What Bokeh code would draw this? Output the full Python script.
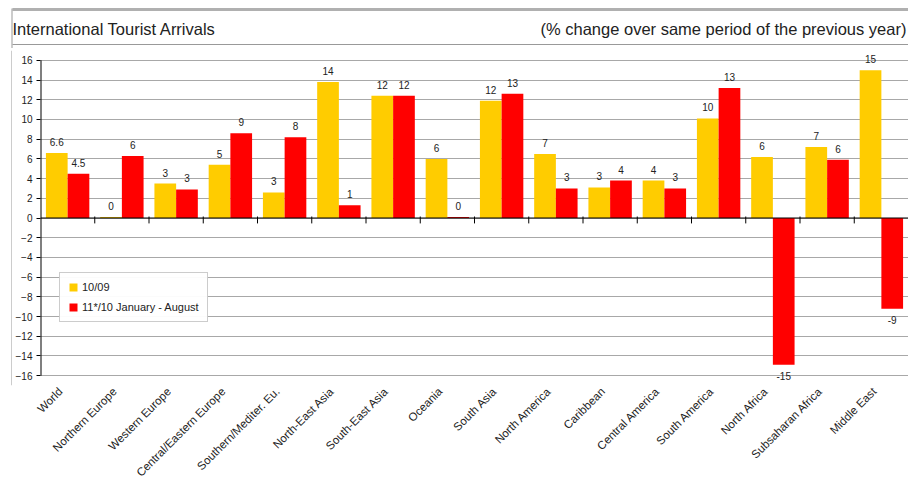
import math
import numpy as np
from bokeh.plotting import figure
from bokeh.layouts import column, row
from bokeh.models import (ColumnDataSource, Range1d, FixedTicker, LabelSet,
                          Span, Legend, LegendItem)
from bokeh.core.properties import value
from bokeh.embed import file_html
from bokeh.resources import INLINE

categories = ["World", "Northern Europe", "Western Europe", "Central/Eastern Europe",
              "Southern/Mediter. Eu.", "North-East Asia", "South-East Asia", "Oceania",
              "South Asia", "North America", "Caribbean", "Central America",
              "South America", "North Africa", "Subsaharan Africa", "Middle East"]
v1009 = [6.6, 0.1, 3.5, 5.4, 2.6, 13.8, 12.4, 6.0, 11.9, 6.5, 3.1, 3.8, 10.1, 6.2, 7.2, 15.0]
v1110 = [4.5, 6.3, 2.9, 8.6, 8.2, 1.3, 12.4, 0.1, 12.6, 3.0, 3.8, 3.0, 13.2, -14.9, 5.9, -9.2]
lab1009 = ["6.6", "0", "3", "5", "3", "14", "12", "6", "12", "7", "3", "4", "10", "6", "7", "15"]
lab1110 = ["4.5", "6", "3", "9", "8", "1", "12", "0", "13", "3", "4", "3", "13", "-15", "6", "-9"]
series_names = ["10/09", "11*/10 January - August"]
y_ticks = list(range(-16, 17, 2))
title_left = "International Tourist Arrivals"
title_right = "(% change over same period of the previous year)"

FONT = "Liberation Sans"
YEL = "#FFCC00"
RED = "#FF0000"
TXT = "#222222"
FRAME = "#999999"
GRID = "#a8a8a8"

W, H = 908, 488
HEAD_H = 48
STRIP_W = 12

# ---------------- header ----------------
hd = figure(width=W, height=HEAD_H, output_backend="svg", toolbar_location=None,
            x_range=Range1d(0, W), y_range=Range1d(HEAD_H, 0),
            min_border=0, min_border_left=0, min_border_right=0,
            min_border_top=0, min_border_bottom=0)
hd.axis.visible = False
hd.grid.visible = False
hd.outline_line_color = None
hd.text(x=[12], y=[28], text=[title_left], text_font=value(FONT), text_font_size="16.5px",
        text_baseline="middle", text_align="left", text_color=TXT)
hd.text(x=[540], y=[28], text=[title_right], text_font=value(FONT), text_font_size="16.5px",
        text_baseline="middle", text_align="left", text_color=TXT)
hd.segment(x0=[12], x1=[W], y0=[9], y1=[9], line_color="#b0b0b0", line_width=3)
hd.segment(x0=[12], x1=[W], y0=[44], y1=[44], line_color=FRAME, line_width=1)
hd.segment(x0=[11.5], x1=[11.5], y0=[8], y1=[HEAD_H], line_color=FRAME, line_width=1)

# ---------------- left strip (outer chart-area border) ----------------
st = figure(width=STRIP_W, height=H - HEAD_H, output_backend="svg", toolbar_location=None,
            x_range=Range1d(0, STRIP_W), y_range=Range1d(0, 1),
            min_border=0, min_border_left=0, min_border_right=0,
            min_border_top=0, min_border_bottom=0)
st.axis.visible = False
st.grid.visible = False
st.outline_line_color = None
st.segment(x0=[11.5], x1=[11.5], y0=[0], y1=[1], line_color=FRAME, line_width=1)

# ---------------- main chart ----------------
n = len(categories)
centers = np.arange(n) + 0.5
bw = 0.4
ymin, ymax = min(y_ticks), max(y_ticks)

p = figure(width=W - STRIP_W, height=H - HEAD_H, output_backend="svg", toolbar_location=None,
           x_range=Range1d(0, n), y_range=Range1d(ymin - 1, ymax + 1),
           min_border_left=23, min_border_right=0, min_border_top=2, min_border_bottom=103)
p.outline_line_color = None
p.background_fill_color = "white"

src1 = ColumnDataSource(dict(x=centers - bw / 2, top=v1009, lab=lab1009))
src2 = ColumnDataSource(dict(x=centers + bw / 2, top=v1110, lab=lab1110))
r1 = p.vbar(x="x", top="top", bottom=0, width=bw, source=src1, fill_color=YEL, line_color=None)
r2 = p.vbar(x="x", top="top", bottom=0, width=bw, source=src2, fill_color=RED, line_color=None)

# zero line, y axis line (only over the tick span) and category boundary ticks
p.add_layout(Span(location=0, dimension="width", line_color="black", line_width=1))
p.segment(x0=[0], x1=[0], y0=[ymin], y1=[ymax], line_color="black", line_width=2)
bnd = np.arange(1, n)
p.segment(x0=bnd, x1=bnd, y0=-0.55, y1=0.15, line_color="black", line_width=1)

# value labels
for vals, labs, xs in ((v1009, lab1009, centers - bw / 2), (v1110, lab1110, centers + bw / 2)):
    pos = [i for i, v in enumerate(vals) if v >= 0]
    neg = [i for i, v in enumerate(vals) if v < 0]
    sp = ColumnDataSource(dict(x=[xs[i] for i in pos], y=[vals[i] for i in pos], t=[labs[i] for i in pos]))
    sn = ColumnDataSource(dict(x=[xs[i] for i in neg], y=[vals[i] for i in neg], t=[labs[i] for i in neg]))
    p.add_layout(LabelSet(x="x", y="y", text="t", source=sp, y_offset=7, text_align="center",
                          text_baseline="bottom", text_font=value(FONT), text_font_size="10px",
                          text_color=TXT))
    p.add_layout(LabelSet(x="x", y="y", text="t", source=sn, y_offset=-7, text_align="center",
                          text_baseline="top", text_font=value(FONT), text_font_size="10px",
                          text_color=TXT))

# axes
p.yaxis.ticker = FixedTicker(ticks=y_ticks)
p.yaxis.axis_line_color = None
p.yaxis.major_tick_line_color = "black"
p.yaxis.major_tick_out = 4
p.yaxis.major_tick_in = 0
p.yaxis.minor_tick_line_color = None
p.yaxis.major_label_text_font = FONT
p.yaxis.major_label_text_font_size = "10px"
p.yaxis.major_label_text_color = TXT
p.yaxis.major_label_standoff = 4

label_ticks = [float(c - 0.13) for c in centers]
p.xaxis.ticker = FixedTicker(ticks=label_ticks)
p.xaxis.major_label_overrides = {t: name for t, name in zip(label_ticks, categories)}
p.xaxis.axis_line_color = None
p.xaxis.major_tick_line_color = None
p.xaxis.minor_tick_line_color = None
p.xaxis.major_label_orientation = math.pi / 4
p.xaxis.major_label_text_font = FONT
p.xaxis.major_label_text_font_size = "11.5px"
p.xaxis.major_label_text_color = TXT
p.xaxis.major_label_standoff = -2

p.xgrid.grid_line_color = None
p.ygrid.ticker = FixedTicker(ticks=y_ticks)
p.ygrid.grid_line_color = GRID
p.ygrid.grid_line_width = 1

# legend
legend = Legend(items=[LegendItem(label=series_names[0], renderers=[r1]),
                       LegendItem(label=series_names[1], renderers=[r2])],
                location=(19, 63), orientation="vertical",
                glyph_width=10, glyph_height=10, label_height=12, spacing=8, padding=8,
                label_standoff=4, margin=0,
                label_text_font=FONT, label_text_font_size="11px", label_text_color=TXT,
                border_line_color=FRAME, border_line_width=1, background_fill_color="white")
p.add_layout(legend, "center")

layout = column(hd, row(st, p, spacing=0), spacing=0)
open("out.html", "w").write(file_html(layout, INLINE))
